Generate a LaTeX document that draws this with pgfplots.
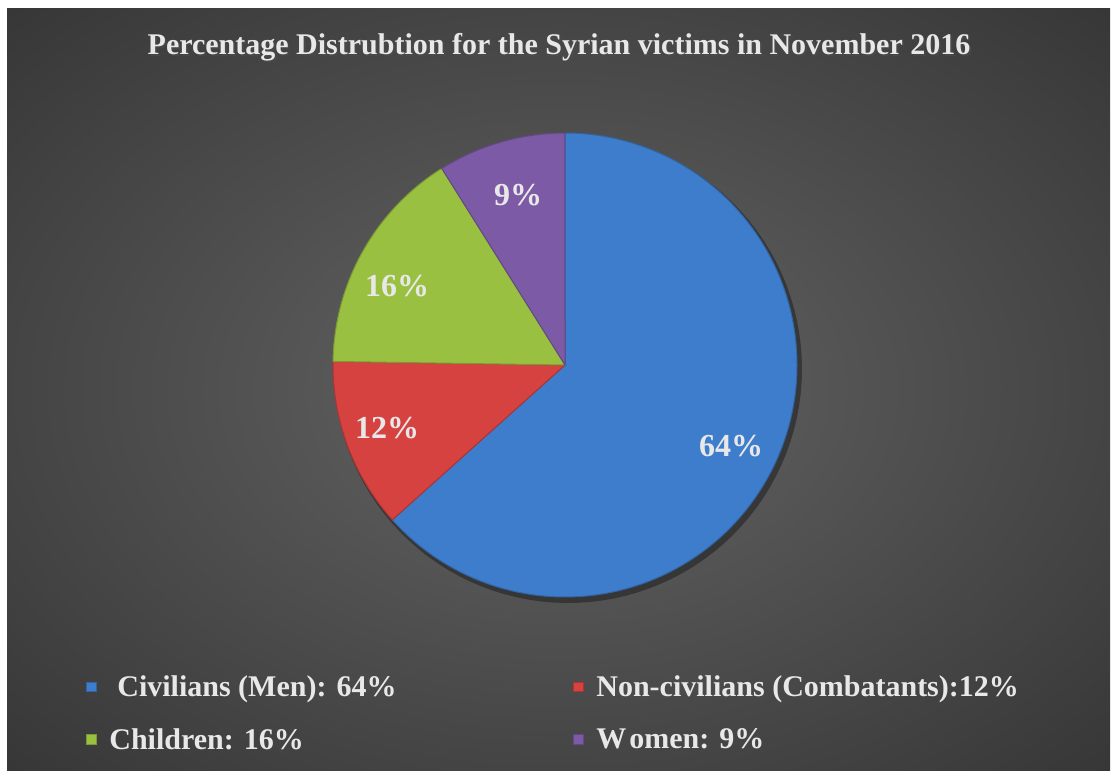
\documentclass[border=0pt]{standalone}
\usepackage{pgfplots}
\pgfplotsset{compat=1.18}
\usepackage{fontspec}
\setmainfont{Liberation Serif}
\definecolor{cblue}{RGB}{62,125,204}
\definecolor{cred}{RGB}{214,66,64}
\definecolor{cgreen}{RGB}{154,192,66}
\definecolor{cpurple}{RGB}{124,90,166}
\definecolor{bgin}{RGB}{90,90,90}
\definecolor{bgout}{RGB}{36,36,36}
\definecolor{txt}{RGB}{232,232,232}
\pgfdeclareradialshading{bgshade}{\pgfpoint{0bp}{0bp}}{color(0bp)=(bgin); color(8bp)=(bgin); color(50bp)=(bgout)}
\begin{document}
\begin{tikzpicture}
\def\vA{64}\def\vB{12}\def\vC{16}\def\vD{9}
\pgfmathsetmacro\tot{\vA+\vB+\vC+\vD}
\pgfmathsetmacro\aA{90}
\pgfmathsetmacro\aB{90-360*(\vA/\tot)}
\pgfmathsetmacro\aC{\aB-360*(\vB/\tot)}
\pgfmathsetmacro\aD{\aC-360*(\vC/\tot)}
\pgfmathsetmacro\aE{\aD-360*(\vD/\tot)}
\begin{axis}[
  x=0.5pt, y=0.5pt, xmin=0, xmax=1111, ymin=0, ymax=771,
  scale only axis, hide axis, clip=false,
  legend columns=2,
  legend cell align=left,
  legend image code/.code={\fill[#1] (0pt,-2pt) rectangle (5pt,2.6pt);},
  legend style={at={(axis cs:86,96)}, anchor=north west, draw=none, fill=none,
    font=\bfseries\fontsize{15}{17}\selectfont, text=txt,
    row sep=14.5pt, inner sep=0pt,
    nodes={inner sep=0pt},
    /tikz/every odd column/.append style={column sep=6pt}},
]
\fill[white] (axis cs:0,0) rectangle (axis cs:1111,771);
\shade[shading=bgshade] (axis cs:7,1) rectangle (axis cs:1110,762);
% soft shadow of the pie
\addplot[draw=none, fill=black, fill opacity=0.35, mark=none, domain=0:360, samples=120, variable=\t, forget plot]
  ({568+234*cos(\t)},{402+234*sin(\t)}) -- cycle;
\addplot[draw=cblue!80!black, fill=cblue, line width=0.5pt, mark=none, domain=\aB:\aA, samples=120, variable=\t]
  ({565+232*cos(\t)},{406+232*sin(\t)}) -- (axis cs:565,406) -- cycle;
\addlegendentry{\makebox[232pt][l]{\hspace{4pt}Civilians (Men): 64\%}}
\addplot[draw=cred!80!black, fill=cred, line width=0.5pt, mark=none, domain=\aC:\aB, samples=40, variable=\t]
  ({565+232*cos(\t)},{406+232*sin(\t)}) -- (axis cs:565,406) -- cycle;
\addlegendentry{Non-civilians (Combatants):12\%}
\addplot[draw=cgreen!80!black, fill=cgreen, line width=0.5pt, mark=none, domain=\aD:\aC, samples=40, variable=\t]
  ({565+232*cos(\t)},{406+232*sin(\t)}) -- (axis cs:565,406) -- cycle;
\addlegendentry{\makebox[232pt][l]{Children: 16\%}}
\addplot[draw=cpurple!80!black, fill=cpurple, line width=0.5pt, mark=none, domain=\aE:\aD, samples=30, variable=\t]
  ({565+232*cos(\t)},{406+232*sin(\t)}) -- (axis cs:565,406) -- cycle;
\addlegendentry{W\kern1.5pt omen: 9\%}
\node[text=black!70, opacity=0.6, font=\bfseries\fontsize{15}{17}\selectfont, anchor=base] at (axis cs:561,714) {Percentage Distrubtion for the Syrian victims in November 2016};
\node[text=txt, font=\bfseries\fontsize{15}{17}\selectfont, anchor=base] at (axis cs:559,716) {Percentage Distrubtion for the Syrian victims in November 2016};
\begin{scope}[every node/.style={text=txt, font=\bfseries\fontsize{16}{18}\selectfont}]
\node at (axis cs:731,325) {64\%};
\node at (axis cs:387,343) {12\%};
\node at (axis cs:397,485) {16\%};
\node at (axis cs:518,576) {9\%};
\end{scope}
\end{axis}
\end{tikzpicture}
\end{document}
